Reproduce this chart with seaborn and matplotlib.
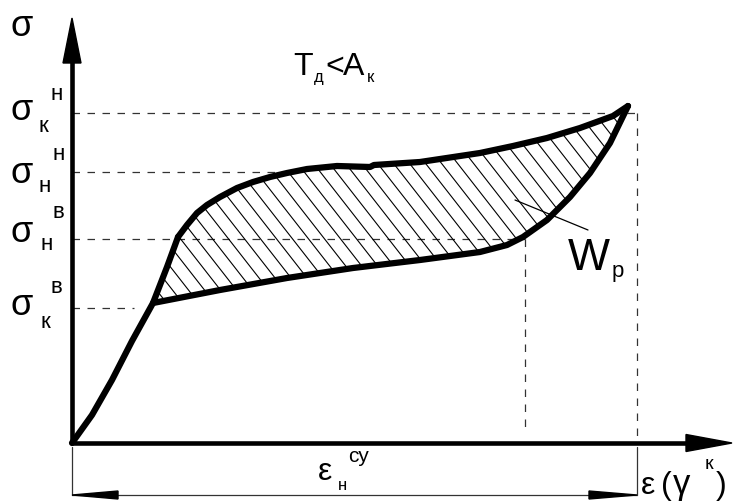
import numpy as np
import matplotlib
matplotlib.use("Agg")
import matplotlib.pyplot as plt
import seaborn as sns
from matplotlib.patches import Polygon
from matplotlib.collections import LineCollection

# Deformation curve (strain eps, stress sigma) in drawing units
loading_eps = [0, 20, 40, 60, 81, 95, 106]
loading_sig = [0, 28, 63, 102, 140, 176, 206]

upper_eps = [106, 115, 125, 135, 148, 165, 181, 198, 215, 235, 265, 298, 302, 348, 408, 441, 475, 508, 541, 556]
upper_sig = [206, 218, 230, 238, 246, 255, 261, 266, 270, 274, 277, 276, 278, 281, 290, 297, 305, 315, 327, 337]

lower_eps = [81, 148, 215, 281, 348, 408, 435, 451, 475, 498, 518, 538, 556]
lower_sig = [140, 153, 165, 175, 183, 191, 198, 206, 223, 246, 270, 300, 337]

# Characteristic stress levels and strains
sig_k_n = 330
sig_n_n = 271
sig_n_v = 204
sig_k_v = 135
eps_n_v = 453
eps_k = 565

sns.set_theme(style="white")
plt.rcParams["font.family"] = ["Liberation Sans", "DejaVu Sans"]

fig = plt.figure(figsize=(7.33, 5.01), dpi=100)
ax = fig.add_axes([0, 0, 1, 1])
ax.set_xlim(-72, 661)
ax.set_ylim(-58, 443)
ax.set_axis_off()

DASH = dict(ls=(0, (6, 6)), lw=0.9, color="#333333", zorder=1)
THIN = dict(lw=0.9, color="#333333", zorder=1)

# dashed reference levels
ax.plot([0, eps_k], [sig_k_n, sig_k_n], **DASH)
ax.plot([eps_k, eps_k], [sig_k_n, 0], **DASH)
ax.plot([0, 205], [sig_n_n, sig_n_n], **DASH)
ax.plot([0, eps_n_v], [sig_n_v, sig_n_v], **DASH)
ax.plot([eps_n_v, eps_n_v], [sig_n_v, 11], **DASH)
ax.plot([0, 62], [sig_k_v, sig_k_v], **DASH)

# hatched hysteresis area W_p
poly_x = loading_eps[4:] + upper_eps[1:] + lower_eps[::-1][1:]
poly_y = loading_sig[4:] + upper_sig[1:] + lower_sig[::-1][1:]
area = Polygon(np.column_stack([poly_x, poly_y]), closed=True,
               facecolor="none", edgecolor="none")
ax.add_patch(area)
k = np.tan(np.radians(52))
offsets = np.arange(60, 900, 16)
segs = [[(c - 120 / k, 120), (c - 360 / k, 360)] for c in offsets]
hatch = LineCollection(segs, colors="black", linewidths=0.8, zorder=2)
hatch.set_clip_path(area)
ax.add_collection(hatch)

# main curve
for xs, ys in [(loading_eps, loading_sig), (upper_eps, upper_sig), (lower_eps, lower_sig)]:
    sns.lineplot(x=xs, y=ys, sort=False, estimator=None, ax=ax, color="black",
                 linewidth=4.5, solid_joinstyle="round", solid_capstyle="round", zorder=4)

# axes with arrowheads
ax.plot([0, 0], [0, 382], color="black", lw=3.3, solid_capstyle="butt", zorder=5)
ax.plot([0, 616], [0, 0], color="black", lw=3.3, solid_capstyle="butt", zorder=5)
ax.add_patch(Polygon([(0, 425), (-9, 380), (9, 380)], closed=True, color="black", zorder=5))
ax.add_patch(Polygon([(660, 0), (614, 8.5), (614, -8.5)], closed=True, color="black", zorder=5))

# dimension line for eps_n^cy
ax.plot([0, 0], [-4, -52], **THIN)
ax.plot([eps_k, eps_k], [-4, -52], **THIN)
ax.plot([0, eps_k], [-52, -52], **THIN)
ax.add_patch(Polygon([(0, -52), (46, -48), (46, -56)], closed=True, color="black", zorder=3))
ax.add_patch(Polygon([(eps_k, -52), (eps_k - 48, -48), (eps_k - 48, -56)], closed=True,
                     color="black", zorder=3))

# leader line to W_p
ax.plot([443, 516], [243, 213], color="black", lw=0.9, zorder=3)


def label(x, y, s, size):
    ax.text(x, y, s, fontsize=size, ha="left", va="baseline", color="black", zorder=6)


# axis symbol
label(-62, 407, "σ", 26)

# stress level symbols
label(-62, 323, "σ", 26); label(-22, 343, "н", 16); label(-34, 311, "к", 16)
label(-62, 260, "σ", 26); label(-20, 283, "н", 16); label(-33, 251, "н", 16)
label(-62, 201, "σ", 26); label(-19, 225, "в", 16); label(-32, 193, "н", 16)
label(-62, 128, "σ", 26); label(-22, 150, "в", 16); label(-32, 115, "к", 16)

# temperature condition
label(221, 368, "T", 23); label(242, 361, "д", 12)
label(253, 368, "<", 23); label(271, 368, "A", 23); label(295, 361, "к", 12)

# hatched area label
label(496, 173, "W", 32); label(540, 166, "p", 16)

# strain labels
label(246, -37, "ε", 23); label(266, -47, "н", 12); label(276, -19, "су", 15)
label(569, -51, "ε", 23); label(589, -51, "(", 23); label(601, -51, "γ", 25)
label(633, -26, "к", 14); label(644, -51, ")", 23)

fig.savefig("out.png", dpi=100)
